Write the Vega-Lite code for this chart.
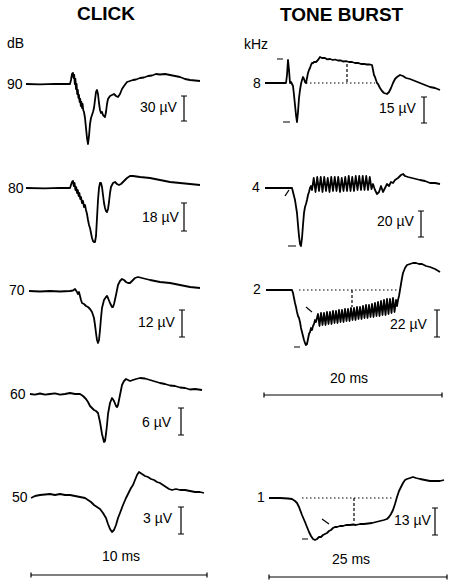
{
  "$schema": "https://vega.github.io/schema/vega-lite/v6.json",
  "width": 454,
  "height": 582,
  "autosize": {"type": "fit", "contains": "padding"},
  "padding": 0,
  "background": "white",
  "config": {"view": {"stroke": null}},
  "datasets": {
    "traces": [
      {"s":"c90","t":26,"v":84},{"s":"c90","t":40,"v":84.3},{"s":"c90","t":55,"v":83.8},{"s":"c90","t":70,"v":84},{"s":"c90","t":71,"v":80},{"s":"c90","t":72,"v":74},{"s":"c90","t":73,"v":73},{"s":"c90","t":73.6,"v":78},{"s":"c90","t":74.2,"v":75},{"s":"c90","t":74.8,"v":84},{"s":"c90","t":75.4,"v":79},{"s":"c90","t":76,"v":89},{"s":"c90","t":76.6,"v":84},{"s":"c90","t":77.2,"v":94},{"s":"c90","t":77.8,"v":90},{"s":"c90","t":78.4,"v":98},{"s":"c90","t":79,"v":95},{"s":"c90","t":79.6,"v":102},{"s":"c90","t":80.2,"v":99},{"s":"c90","t":80.8,"v":106},{"s":"c90","t":81.4,"v":102},{"s":"c90","t":82,"v":108},{"s":"c90","t":82.6,"v":104},{"s":"c90","t":83.2,"v":110},{"s":"c90","t":84,"v":112},{"s":"c90","t":85,"v":118},{"s":"c90","t":86,"v":128},{"s":"c90","t":87,"v":138},{"s":"c90","t":88,"v":144},{"s":"c90","t":89,"v":136},{"s":"c90","t":90,"v":124},{"s":"c90","t":91,"v":118},{"s":"c90","t":92,"v":115},{"s":"c90","t":93,"v":112},{"s":"c90","t":94,"v":108},{"s":"c90","t":95,"v":100},{"s":"c90","t":96,"v":92},{"s":"c90","t":97,"v":90},{"s":"c90","t":98,"v":94},{"s":"c90","t":99,"v":103},{"s":"c90","t":100,"v":110},{"s":"c90","t":101,"v":113},{"s":"c90","t":102,"v":112},{"s":"c90","t":103,"v":115},{"s":"c90","t":104,"v":116},{"s":"c90","t":105,"v":117},{"s":"c90","t":106,"v":112},{"s":"c90","t":107,"v":104},{"s":"c90","t":108,"v":99},{"s":"c90","t":110,"v":96},{"s":"c90","t":112,"v":95},{"s":"c90","t":114,"v":94},{"s":"c90","t":116,"v":96},{"s":"c90","t":118,"v":97},{"s":"c90","t":120,"v":94},{"s":"c90","t":122,"v":89},{"s":"c90","t":124,"v":86},{"s":"c90","t":127,"v":82},{"s":"c90","t":130,"v":81},{"s":"c90","t":133,"v":80},{"s":"c90","t":136,"v":79.5},{"s":"c90","t":140,"v":78},{"s":"c90","t":144,"v":77.5},{"s":"c90","t":148,"v":76},{"s":"c90","t":152,"v":75.5},{"s":"c90","t":156,"v":74},{"s":"c90","t":160,"v":74.5},{"s":"c90","t":165,"v":74},{"s":"c90","t":170,"v":75},{"s":"c90","t":175,"v":76},{"s":"c90","t":180,"v":77},{"s":"c90","t":185,"v":79},{"s":"c90","t":190,"v":80},{"s":"c90","t":195,"v":80.5},{"s":"c90","t":200,"v":81},

      {"s":"c80","t":26,"v":188},{"s":"c80","t":45,"v":188.3},{"s":"c80","t":60,"v":187.8},{"s":"c80","t":70,"v":188},{"s":"c80","t":71,"v":185},{"s":"c80","t":72,"v":182},{"s":"c80","t":73,"v":181},{"s":"c80","t":73.8,"v":186},{"s":"c80","t":74.6,"v":183},{"s":"c80","t":75.4,"v":190},{"s":"c80","t":76.2,"v":187},{"s":"c80","t":77,"v":193},{"s":"c80","t":77.8,"v":190},{"s":"c80","t":78.6,"v":196},{"s":"c80","t":79.4,"v":193},{"s":"c80","t":80.2,"v":199},{"s":"c80","t":81,"v":197},{"s":"c80","t":82,"v":203},{"s":"c80","t":83,"v":201},{"s":"c80","t":84,"v":207},{"s":"c80","t":85,"v":205},{"s":"c80","t":86,"v":210},{"s":"c80","t":87,"v":214},{"s":"c80","t":88,"v":220},{"s":"c80","t":89,"v":225},{"s":"c80","t":90,"v":228},{"s":"c80","t":91,"v":233},{"s":"c80","t":92,"v":238},{"s":"c80","t":93,"v":241},{"s":"c80","t":94,"v":242},{"s":"c80","t":95,"v":242},{"s":"c80","t":96,"v":236},{"s":"c80","t":97,"v":218},{"s":"c80","t":98,"v":200},{"s":"c80","t":99,"v":188},{"s":"c80","t":100,"v":183},{"s":"c80","t":101,"v":183},{"s":"c80","t":102,"v":187},{"s":"c80","t":103,"v":195},{"s":"c80","t":104,"v":203},{"s":"c80","t":105,"v":208},{"s":"c80","t":106,"v":211},{"s":"c80","t":107,"v":212},{"s":"c80","t":108,"v":209},{"s":"c80","t":109,"v":202},{"s":"c80","t":110,"v":193},{"s":"c80","t":111,"v":187},{"s":"c80","t":113,"v":183},{"s":"c80","t":115,"v":182},{"s":"c80","t":117,"v":184},{"s":"c80","t":119,"v":185},{"s":"c80","t":121,"v":184},{"s":"c80","t":124,"v":181},{"s":"c80","t":127,"v":178},{"s":"c80","t":130,"v":176},{"s":"c80","t":133,"v":176},{"s":"c80","t":140,"v":177},{"s":"c80","t":150,"v":178},{"s":"c80","t":160,"v":180},{"s":"c80","t":170,"v":182},{"s":"c80","t":180,"v":183},{"s":"c80","t":190,"v":184},{"s":"c80","t":200,"v":185},

      {"s":"c70","t":29,"v":291},{"s":"c70","t":40,"v":291.5},{"s":"c70","t":50,"v":291},{"s":"c70","t":60,"v":291.5},{"s":"c70","t":70,"v":291},{"s":"c70","t":73,"v":290.5},{"s":"c70","t":75,"v":289},{"s":"c70","t":77,"v":292},{"s":"c70","t":78,"v":294},{"s":"c70","t":79,"v":292},{"s":"c70","t":80,"v":296},{"s":"c70","t":81,"v":300},{"s":"c70","t":82,"v":303},{"s":"c70","t":84,"v":304},{"s":"c70","t":86,"v":306},{"s":"c70","t":88,"v":307},{"s":"c70","t":90,"v":309},{"s":"c70","t":92,"v":312},{"s":"c70","t":94,"v":318},{"s":"c70","t":95,"v":325},{"s":"c70","t":96,"v":333},{"s":"c70","t":97,"v":340},{"s":"c70","t":98,"v":343},{"s":"c70","t":99,"v":340},{"s":"c70","t":100,"v":330},{"s":"c70","t":101,"v":318},{"s":"c70","t":102,"v":308},{"s":"c70","t":104,"v":300},{"s":"c70","t":106,"v":297},{"s":"c70","t":107,"v":296},{"s":"c70","t":108,"v":298},{"s":"c70","t":110,"v":303},{"s":"c70","t":112,"v":307},{"s":"c70","t":113,"v":307},{"s":"c70","t":114,"v":304},{"s":"c70","t":116,"v":295},{"s":"c70","t":118,"v":285},{"s":"c70","t":120,"v":281},{"s":"c70","t":122,"v":279},{"s":"c70","t":124,"v":280},{"s":"c70","t":126,"v":282},{"s":"c70","t":128,"v":283},{"s":"c70","t":130,"v":283},{"s":"c70","t":132,"v":281},{"s":"c70","t":135,"v":278},{"s":"c70","t":138,"v":277},{"s":"c70","t":142,"v":278},{"s":"c70","t":150,"v":280},{"s":"c70","t":160,"v":282},{"s":"c70","t":170,"v":283},{"s":"c70","t":180,"v":285},{"s":"c70","t":190,"v":287},{"s":"c70","t":200,"v":288},

      {"s":"c60","t":30,"v":394},{"s":"c60","t":35,"v":394.6},{"s":"c60","t":40,"v":393.5},{"s":"c60","t":45,"v":394.6},{"s":"c60","t":50,"v":394},{"s":"c60","t":55,"v":393.4},{"s":"c60","t":60,"v":394.6},{"s":"c60","t":65,"v":394},{"s":"c60","t":70,"v":393},{"s":"c60","t":75,"v":394},{"s":"c60","t":80,"v":394},{"s":"c60","t":83,"v":396},{"s":"c60","t":86,"v":399},{"s":"c60","t":88,"v":402},{"s":"c60","t":90,"v":406},{"s":"c60","t":92,"v":408},{"s":"c60","t":94,"v":410},{"s":"c60","t":96,"v":411},{"s":"c60","t":98,"v":413},{"s":"c60","t":100,"v":422},{"s":"c60","t":102,"v":434},{"s":"c60","t":104,"v":442},{"s":"c60","t":105,"v":441},{"s":"c60","t":106,"v":434},{"s":"c60","t":107,"v":425},{"s":"c60","t":108,"v":414},{"s":"c60","t":110,"v":403},{"s":"c60","t":112,"v":398},{"s":"c60","t":114,"v":401},{"s":"c60","t":116,"v":406},{"s":"c60","t":117,"v":407},{"s":"c60","t":118,"v":405},{"s":"c60","t":120,"v":395},{"s":"c60","t":122,"v":385},{"s":"c60","t":124,"v":381},{"s":"c60","t":126,"v":379},{"s":"c60","t":128,"v":380},{"s":"c60","t":130,"v":381},{"s":"c60","t":133,"v":380},{"s":"c60","t":136,"v":379},{"s":"c60","t":140,"v":378},{"s":"c60","t":145,"v":378.5},{"s":"c60","t":150,"v":380},{"s":"c60","t":155,"v":381.5},{"s":"c60","t":160,"v":383},{"s":"c60","t":165,"v":384},{"s":"c60","t":170,"v":385.5},{"s":"c60","t":175,"v":386},{"s":"c60","t":180,"v":387.5},{"s":"c60","t":185,"v":388},{"s":"c60","t":190,"v":389.5},{"s":"c60","t":195,"v":389},{"s":"c60","t":202,"v":390},

      {"s":"c50","t":31,"v":498},{"s":"c50","t":35,"v":496},{"s":"c50","t":40,"v":495},{"s":"c50","t":45,"v":494.5},{"s":"c50","t":50,"v":494},{"s":"c50","t":55,"v":495},{"s":"c50","t":60,"v":494},{"s":"c50","t":65,"v":495},{"s":"c50","t":70,"v":495},{"s":"c50","t":75,"v":496},{"s":"c50","t":80,"v":497},{"s":"c50","t":85,"v":498},{"s":"c50","t":88,"v":500},{"s":"c50","t":91,"v":502},{"s":"c50","t":94,"v":505},{"s":"c50","t":97,"v":507},{"s":"c50","t":100,"v":509},{"s":"c50","t":103,"v":513},{"s":"c50","t":106,"v":518},{"s":"c50","t":108,"v":524},{"s":"c50","t":110,"v":529},{"s":"c50","t":112,"v":532},{"s":"c50","t":114,"v":530},{"s":"c50","t":116,"v":525},{"s":"c50","t":118,"v":518},{"s":"c50","t":120,"v":513},{"s":"c50","t":123,"v":505},{"s":"c50","t":126,"v":498},{"s":"c50","t":129,"v":492},{"s":"c50","t":131,"v":488},{"s":"c50","t":133,"v":485},{"s":"c50","t":135,"v":480},{"s":"c50","t":137,"v":475},{"s":"c50","t":139,"v":472},{"s":"c50","t":142,"v":474},{"s":"c50","t":145,"v":476},{"s":"c50","t":148,"v":477},{"s":"c50","t":151,"v":479},{"s":"c50","t":154,"v":480},{"s":"c50","t":157,"v":482},{"s":"c50","t":160,"v":483},{"s":"c50","t":163,"v":485},{"s":"c50","t":166,"v":487},{"s":"c50","t":169,"v":489},{"s":"c50","t":172,"v":490},{"s":"c50","t":176,"v":489},{"s":"c50","t":180,"v":490},{"s":"c50","t":185,"v":490},{"s":"c50","t":190,"v":491},{"s":"c50","t":195,"v":492},{"s":"c50","t":200,"v":492},{"s":"c50","t":204,"v":493},

      {"s":"t8","t":265,"v":83},{"s":"t8","t":286,"v":83},{"s":"t8","t":287,"v":75},{"s":"t8","t":288,"v":60},{"s":"t8","t":289,"v":70},{"s":"t8","t":290,"v":83},{"s":"t8","t":291,"v":82},{"s":"t8","t":292,"v":84},{"s":"t8","t":293,"v":86},{"s":"t8","t":294,"v":95},{"s":"t8","t":295,"v":105},{"s":"t8","t":296,"v":115},{"s":"t8","t":297,"v":122},{"s":"t8","t":298,"v":112},{"s":"t8","t":299,"v":98},{"s":"t8","t":300,"v":90},{"s":"t8","t":301,"v":84},{"s":"t8","t":302,"v":80},{"s":"t8","t":303,"v":77},{"s":"t8","t":304,"v":79},{"s":"t8","t":305,"v":82},{"s":"t8","t":306,"v":83},{"s":"t8","t":307,"v":78},{"s":"t8","t":308,"v":73},{"s":"t8","t":309,"v":70},{"s":"t8","t":310,"v":68},{"s":"t8","t":311,"v":65},{"s":"t8","t":312,"v":63},{"s":"t8","t":313,"v":63},{"s":"t8","t":314,"v":62},{"s":"t8","t":316,"v":62},{"s":"t8","t":318,"v":60},{"s":"t8","t":320,"v":57},{"s":"t8","t":322,"v":58},{"s":"t8","t":325,"v":58},{"s":"t8","t":327,"v":59.3},{"s":"t8","t":330,"v":59},{"s":"t8","t":333,"v":60},{"s":"t8","t":335,"v":59.5},{"s":"t8","t":338,"v":60.5},{"s":"t8","t":341,"v":60.5},{"s":"t8","t":343,"v":61.5},{"s":"t8","t":346,"v":61.2},{"s":"t8","t":349,"v":62},{"s":"t8","t":352,"v":62},{"s":"t8","t":355,"v":63},{"s":"t8","t":358,"v":62.8},{"s":"t8","t":361,"v":64},{"s":"t8","t":364,"v":63.8},{"s":"t8","t":367,"v":64.5},{"s":"t8","t":370,"v":64.5},{"s":"t8","t":372,"v":65},{"s":"t8","t":373,"v":70},{"s":"t8","t":374,"v":75},{"s":"t8","t":375,"v":77},{"s":"t8","t":376,"v":80},{"s":"t8","t":377,"v":83},{"s":"t8","t":378,"v":84},{"s":"t8","t":379,"v":86},{"s":"t8","t":380,"v":88},{"s":"t8","t":382,"v":91},{"s":"t8","t":384,"v":93},{"s":"t8","t":387,"v":94},{"s":"t8","t":389,"v":92},{"s":"t8","t":391,"v":88},{"s":"t8","t":393,"v":83},{"s":"t8","t":395,"v":79},{"s":"t8","t":397,"v":77},{"s":"t8","t":400,"v":75},{"s":"t8","t":403,"v":76},{"s":"t8","t":406,"v":78},{"s":"t8","t":410,"v":79},{"s":"t8","t":415,"v":81},{"s":"t8","t":420,"v":83},{"s":"t8","t":425,"v":85},{"s":"t8","t":430,"v":87},{"s":"t8","t":435,"v":88},{"s":"t8","t":440,"v":90},

      {"s":"t4","t":265,"v":188},{"s":"t4","t":292,"v":188},{"s":"t4","t":293,"v":192},{"s":"t4","t":295,"v":200},{"s":"t4","t":297,"v":213},{"s":"t4","t":298,"v":225},{"s":"t4","t":299,"v":236},{"s":"t4","t":300,"v":244},{"s":"t4","t":301,"v":246},{"s":"t4","t":302,"v":238},{"s":"t4","t":303,"v":225},{"s":"t4","t":304,"v":213},{"s":"t4","t":305,"v":207},{"s":"t4","t":306,"v":204},{"s":"t4","t":307,"v":200},{"s":"t4","t":308,"v":195},{"s":"t4","t":309,"v":192},{"s":"t4","t":310,"v":188},{"s":"t4","t":311,"v":186},
      {"s":"t4","t":312,"v":190},{"s":"t4","t":313.75,"v":178},{"s":"t4","t":315.5,"v":192},{"s":"t4","t":317.25,"v":177},{"s":"t4","t":319,"v":191},{"s":"t4","t":320.75,"v":177},{"s":"t4","t":322.5,"v":192},{"s":"t4","t":324.25,"v":177},{"s":"t4","t":326,"v":191},{"s":"t4","t":327.75,"v":178},{"s":"t4","t":329.5,"v":192},{"s":"t4","t":331.25,"v":177},{"s":"t4","t":333,"v":191},{"s":"t4","t":334.75,"v":177},{"s":"t4","t":336.5,"v":191},{"s":"t4","t":338.25,"v":177},{"s":"t4","t":340,"v":192},{"s":"t4","t":341.75,"v":178},{"s":"t4","t":343.5,"v":191},{"s":"t4","t":345.25,"v":177},{"s":"t4","t":347,"v":191},{"s":"t4","t":348.75,"v":176},{"s":"t4","t":350.5,"v":191},{"s":"t4","t":352.25,"v":177},{"s":"t4","t":354,"v":191},{"s":"t4","t":355.75,"v":176},{"s":"t4","t":357.5,"v":190},{"s":"t4","t":359.25,"v":176},{"s":"t4","t":361,"v":190},{"s":"t4","t":362.75,"v":176},{"s":"t4","t":364.5,"v":190},{"s":"t4","t":366.25,"v":176},{"s":"t4","t":368,"v":190},{"s":"t4","t":369.75,"v":177},{"s":"t4","t":371.5,"v":189},
      {"s":"t4","t":373,"v":184},{"s":"t4","t":375,"v":190},{"s":"t4","t":377,"v":194},{"s":"t4","t":379,"v":192},{"s":"t4","t":381,"v":186},{"s":"t4","t":383,"v":192},{"s":"t4","t":385,"v":188},{"s":"t4","t":387,"v":184},{"s":"t4","t":389,"v":186},{"s":"t4","t":391,"v":182},{"s":"t4","t":393,"v":183},{"s":"t4","t":395,"v":180},{"s":"t4","t":398,"v":178},{"s":"t4","t":401,"v":175},{"s":"t4","t":403,"v":174},{"s":"t4","t":405,"v":176},{"s":"t4","t":408,"v":177},{"s":"t4","t":412,"v":178},{"s":"t4","t":416,"v":179},{"s":"t4","t":420,"v":180},{"s":"t4","t":425,"v":181},{"s":"t4","t":430,"v":183},{"s":"t4","t":435,"v":183},{"s":"t4","t":440,"v":184},

      {"s":"t2","t":266,"v":290},{"s":"t2","t":292,"v":290},{"s":"t2","t":293,"v":293},{"s":"t2","t":294,"v":298},{"s":"t2","t":295,"v":303},{"s":"t2","t":296,"v":307},{"s":"t2","t":297,"v":312},{"s":"t2","t":298,"v":316},{"s":"t2","t":299,"v":318},{"s":"t2","t":300,"v":322},{"s":"t2","t":301,"v":328},{"s":"t2","t":302,"v":332},{"s":"t2","t":303,"v":336},{"s":"t2","t":304,"v":340},{"s":"t2","t":305,"v":343},{"s":"t2","t":306,"v":345},{"s":"t2","t":307,"v":344},{"s":"t2","t":308,"v":339},{"s":"t2","t":309,"v":334},{"s":"t2","t":310,"v":332},{"s":"t2","t":311,"v":328},{"s":"t2","t":312,"v":330},{"s":"t2","t":313,"v":326},{"s":"t2","t":314,"v":324},{"s":"t2","t":315,"v":320},{"s":"t2","t":316,"v":322},{"s":"t2","t":317,"v":318},
      {"s":"t2","t":318,"v":314},{"s":"t2","t":319.5,"v":326},{"s":"t2","t":321,"v":313},{"s":"t2","t":322.5,"v":325},{"s":"t2","t":324,"v":313},{"s":"t2","t":325.5,"v":325},{"s":"t2","t":327,"v":312},{"s":"t2","t":328.5,"v":324},{"s":"t2","t":330,"v":312},{"s":"t2","t":331.5,"v":324},{"s":"t2","t":333,"v":311},{"s":"t2","t":334.5,"v":323},{"s":"t2","t":336,"v":311},{"s":"t2","t":337.5,"v":323},{"s":"t2","t":339,"v":310},{"s":"t2","t":340.5,"v":322},{"s":"t2","t":342,"v":310},{"s":"t2","t":343.5,"v":322},{"s":"t2","t":345,"v":309},{"s":"t2","t":346.5,"v":321},{"s":"t2","t":348,"v":309},{"s":"t2","t":349.5,"v":321},{"s":"t2","t":351,"v":308},{"s":"t2","t":352.5,"v":320},{"s":"t2","t":354,"v":308},{"s":"t2","t":355.5,"v":320},{"s":"t2","t":357,"v":307},{"s":"t2","t":358.5,"v":319},{"s":"t2","t":360,"v":307},{"s":"t2","t":361.5,"v":319},{"s":"t2","t":363,"v":306},{"s":"t2","t":364.5,"v":318},{"s":"t2","t":366,"v":305},{"s":"t2","t":367.5,"v":318},{"s":"t2","t":369,"v":305},{"s":"t2","t":370.5,"v":317},{"s":"t2","t":372,"v":304},{"s":"t2","t":373.5,"v":317},{"s":"t2","t":375,"v":303},{"s":"t2","t":376.5,"v":316},{"s":"t2","t":378,"v":302},{"s":"t2","t":379.5,"v":316},{"s":"t2","t":381,"v":301},{"s":"t2","t":382.5,"v":315},{"s":"t2","t":384,"v":300},{"s":"t2","t":385.5,"v":315},{"s":"t2","t":387,"v":299},{"s":"t2","t":388.5,"v":314},{"s":"t2","t":390,"v":299},{"s":"t2","t":391.5,"v":313},{"s":"t2","t":393,"v":298},{"s":"t2","t":394.5,"v":312},{"s":"t2","t":396,"v":300},
      {"s":"t2","t":397,"v":306},{"s":"t2","t":398,"v":300},{"s":"t2","t":399,"v":296},{"s":"t2","t":400,"v":290},{"s":"t2","t":401,"v":284},{"s":"t2","t":402,"v":278},{"s":"t2","t":403,"v":273},{"s":"t2","t":405,"v":268},{"s":"t2","t":407,"v":265},{"s":"t2","t":410,"v":264},{"s":"t2","t":413,"v":263},{"s":"t2","t":416,"v":263},{"s":"t2","t":419,"v":264},{"s":"t2","t":422,"v":264},{"s":"t2","t":426,"v":266},{"s":"t2","t":430,"v":267},{"s":"t2","t":435,"v":269},{"s":"t2","t":440,"v":272},

      {"s":"t1","t":269,"v":498},{"s":"t1","t":280,"v":498},{"s":"t1","t":288,"v":498.5},{"s":"t1","t":292,"v":499},{"s":"t1","t":295,"v":501},{"s":"t1","t":297,"v":503},{"s":"t1","t":299,"v":507},{"s":"t1","t":302,"v":515},{"s":"t1","t":305,"v":522},{"s":"t1","t":307,"v":527},{"s":"t1","t":309,"v":532},{"s":"t1","t":311,"v":536},{"s":"t1","t":313,"v":539},{"s":"t1","t":315,"v":540},{"s":"t1","t":317,"v":539},{"s":"t1","t":319,"v":537},{"s":"t1","t":321,"v":537},{"s":"t1","t":323,"v":535},{"s":"t1","t":325,"v":534},{"s":"t1","t":327,"v":533},{"s":"t1","t":329,"v":531},{"s":"t1","t":331,"v":530},{"s":"t1","t":333,"v":528},{"s":"t1","t":335,"v":527},{"s":"t1","t":337,"v":527},{"s":"t1","t":340,"v":526},{"s":"t1","t":343,"v":526},{"s":"t1","t":346,"v":525},{"s":"t1","t":350,"v":525},{"s":"t1","t":353,"v":524.5},{"s":"t1","t":356,"v":525},{"s":"t1","t":360,"v":524},{"s":"t1","t":364,"v":524},{"s":"t1","t":368,"v":523.5},{"s":"t1","t":372,"v":523},{"s":"t1","t":376,"v":522},{"s":"t1","t":380,"v":521},{"s":"t1","t":384,"v":520},{"s":"t1","t":387,"v":519},{"s":"t1","t":389,"v":517},{"s":"t1","t":391,"v":514},{"s":"t1","t":393,"v":510},{"s":"t1","t":395,"v":504},{"s":"t1","t":397,"v":497},{"s":"t1","t":399,"v":491},{"s":"t1","t":401,"v":487},{"s":"t1","t":403,"v":483},{"s":"t1","t":405,"v":480},{"s":"t1","t":407,"v":479},{"s":"t1","t":410,"v":478},{"s":"t1","t":413,"v":477},{"s":"t1","t":416,"v":478},{"s":"t1","t":420,"v":479},{"s":"t1","t":425,"v":480},{"s":"t1","t":430,"v":481},{"s":"t1","t":435,"v":481},{"s":"t1","t":440,"v":481},{"s":"t1","t":444,"v":480}
    ],
    "segs": [
      {"x1":184,"y1":96,"x2":184,"y2":121,"k":"solid"},{"x1":181,"y1":96,"x2":187,"y2":96,"k":"solid"},{"x1":181,"y1":121,"x2":187,"y2":121,"k":"solid"},
      {"x1":184,"y1":203,"x2":184,"y2":231,"k":"solid"},{"x1":181,"y1":203,"x2":187,"y2":203,"k":"solid"},{"x1":181,"y1":231,"x2":187,"y2":231,"k":"solid"},
      {"x1":182,"y1":310,"x2":182,"y2":337,"k":"solid"},{"x1":179,"y1":310,"x2":185,"y2":310,"k":"solid"},{"x1":179,"y1":337,"x2":185,"y2":337,"k":"solid"},
      {"x1":181,"y1":408,"x2":181,"y2":435,"k":"solid"},{"x1":178,"y1":408,"x2":184,"y2":408,"k":"solid"},{"x1":178,"y1":435,"x2":184,"y2":435,"k":"solid"},
      {"x1":181,"y1":507,"x2":181,"y2":534,"k":"solid"},{"x1":178,"y1":507,"x2":184,"y2":507,"k":"solid"},{"x1":178,"y1":534,"x2":184,"y2":534,"k":"solid"},
      {"x1":424,"y1":97,"x2":424,"y2":123,"k":"solid"},{"x1":421,"y1":97,"x2":427,"y2":97,"k":"solid"},{"x1":421,"y1":123,"x2":427,"y2":123,"k":"solid"},
      {"x1":421,"y1":211,"x2":421,"y2":237,"k":"solid"},{"x1":418,"y1":211,"x2":424,"y2":211,"k":"solid"},{"x1":418,"y1":237,"x2":424,"y2":237,"k":"solid"},
      {"x1":437,"y1":310,"x2":437,"y2":337,"k":"solid"},{"x1":434,"y1":310,"x2":440,"y2":310,"k":"solid"},{"x1":434,"y1":337,"x2":440,"y2":337,"k":"solid"},
      {"x1":435,"y1":508,"x2":435,"y2":535,"k":"solid"},{"x1":432,"y1":508,"x2":438,"y2":508,"k":"solid"},{"x1":432,"y1":535,"x2":438,"y2":535,"k":"solid"},
      {"x1":31,"y1":575,"x2":207,"y2":575,"k":"solid"},{"x1":31,"y1":572.5,"x2":31,"y2":577.5,"k":"solid"},{"x1":207,"y1":572.5,"x2":207,"y2":577.5,"k":"solid"},
      {"x1":264,"y1":395,"x2":442,"y2":395,"k":"solid"},{"x1":264,"y1":392.5,"x2":264,"y2":397.5,"k":"solid"},{"x1":442,"y1":392.5,"x2":442,"y2":397.5,"k":"solid"},
      {"x1":269,"y1":577,"x2":447,"y2":577,"k":"solid"},{"x1":269,"y1":574.5,"x2":269,"y2":579.5,"k":"solid"},{"x1":447,"y1":574.5,"x2":447,"y2":579.5,"k":"solid"},
      {"x1":277,"y1":59,"x2":283,"y2":59,"k":"solid"},{"x1":283,"y1":122,"x2":290,"y2":122,"k":"solid"},
      {"x1":285,"y1":196,"x2":289,"y2":190,"k":"solid"},{"x1":288,"y1":246,"x2":296,"y2":246,"k":"solid"},
      {"x1":306,"y1":307,"x2":312,"y2":312,"k":"solid"},{"x1":294,"y1":347,"x2":300,"y2":347,"k":"solid"},
      {"x1":322,"y1":519,"x2":329,"y2":524,"k":"solid"},{"x1":302,"y1":539,"x2":308,"y2":539,"k":"solid"},
      {"x1":306,"y1":83,"x2":375,"y2":83,"k":"dot"},{"x1":299,"y1":290,"x2":399,"y2":290,"k":"dot"},{"x1":302,"y1":498,"x2":394,"y2":498,"k":"dot"},
      {"x1":347,"y1":64,"x2":347,"y2":83,"k":"dash"},{"x1":352,"y1":290,"x2":352,"y2":307,"k":"dash"},{"x1":354,"y1":498,"x2":354,"y2":522,"k":"dash"}
    ],
    "labels": [
      {"x":77,"y":19.5,"txt":"CLICK","w":"title"},{"x":280,"y":21,"txt":"TONE BURST","w":"title"},
      {"x":7,"y":48,"txt":"dB","w":"n"},{"x":244,"y":49,"txt":"kHz","w":"n"},
      {"x":7,"y":88.5,"txt":"90","w":"n"},{"x":8,"y":192.5,"txt":"80","w":"n"},{"x":9,"y":295,"txt":"70","w":"n"},{"x":10,"y":398.5,"txt":"60","w":"n"},{"x":12,"y":501.5,"txt":"50","w":"n"},
      {"x":253,"y":88,"txt":"8","w":"n"},{"x":252,"y":192,"txt":"4","w":"n"},{"x":253,"y":294,"txt":"2","w":"n"},{"x":257,"y":502,"txt":"1","w":"n"},
      {"x":140,"y":111.5,"txt":"30 µV","w":"n"},{"x":142,"y":221.5,"txt":"18 µV","w":"n"},{"x":138,"y":326.5,"txt":"12 µV","w":"n"},{"x":142,"y":426.5,"txt":"6 µV","w":"n"},{"x":143,"y":523.3,"txt":"3 µV","w":"n"},
      {"x":379,"y":112.7,"txt":"15 µV","w":"n"},{"x":377,"y":226,"txt":"20 µV","w":"n"},{"x":390,"y":329.3,"txt":"22 µV","w":"n"},{"x":394,"y":525,"txt":"13 µV","w":"n"},
      {"x":102,"y":560.7,"txt":"10 ms","w":"n"},{"x":330,"y":383.3,"txt":"20 ms","w":"n"},{"x":332,"y":564,"txt":"25 ms","w":"n"}
    ]
  },
  "layer": [
    {
      "data": {"name": "traces"},
      "mark": {"type": "line", "color": "black", "strokeWidth": 1.8, "strokeJoin": "round"},
      "encoding": {
        "x": {"field": "t", "type": "quantitative", "scale": {"domain": [0, 454], "nice": false, "zero": false}, "axis": null},
        "y": {"field": "v", "type": "quantitative", "scale": {"domain": [0, 582], "nice": false, "zero": false, "reverse": true}, "axis": null},
        "detail": {"field": "s", "type": "nominal"}
      }
    },
    {
      "data": {"name": "segs"},
      "mark": {"type": "rule", "color": "black", "strokeWidth": 1.2},
      "encoding": {
        "x": {"field": "x1", "type": "quantitative", "scale": {"domain": [0, 454], "nice": false, "zero": false}, "axis": null},
        "x2": {"field": "x2"},
        "y": {"field": "y1", "type": "quantitative", "scale": {"domain": [0, 582], "nice": false, "zero": false, "reverse": true}, "axis": null},
        "y2": {"field": "y2"},
        "strokeDash": {"field": "k", "type": "nominal", "scale": {"domain": ["solid", "dot", "dash"], "range": [[1, 0], [1.5, 2.5], [3, 2]]}, "legend": null}
      }
    },
    {
      "data": {"name": "labels"},
      "transform": [{"filter": "datum.w == 'n'"}],
      "mark": {"type": "text", "align": "left", "baseline": "alphabetic", "font": "Liberation Sans", "fontSize": 14, "color": "black"},
      "encoding": {
        "x": {"field": "x", "type": "quantitative", "scale": {"domain": [0, 454], "nice": false, "zero": false}, "axis": null},
        "y": {"field": "y", "type": "quantitative", "scale": {"domain": [0, 582], "nice": false, "zero": false, "reverse": true}, "axis": null},
        "text": {"field": "txt"}
      }
    },
    {
      "data": {"name": "labels"},
      "transform": [{"filter": "datum.w == 'title'"}],
      "mark": {"type": "text", "align": "left", "baseline": "alphabetic", "font": "Liberation Sans", "fontSize": 19, "fontWeight": "bold", "color": "black"},
      "encoding": {
        "x": {"field": "x", "type": "quantitative", "scale": {"domain": [0, 454], "nice": false, "zero": false}, "axis": null},
        "y": {"field": "y", "type": "quantitative", "scale": {"domain": [0, 582], "nice": false, "zero": false, "reverse": true}, "axis": null},
        "text": {"field": "txt"}
      }
    }
  ]
}
